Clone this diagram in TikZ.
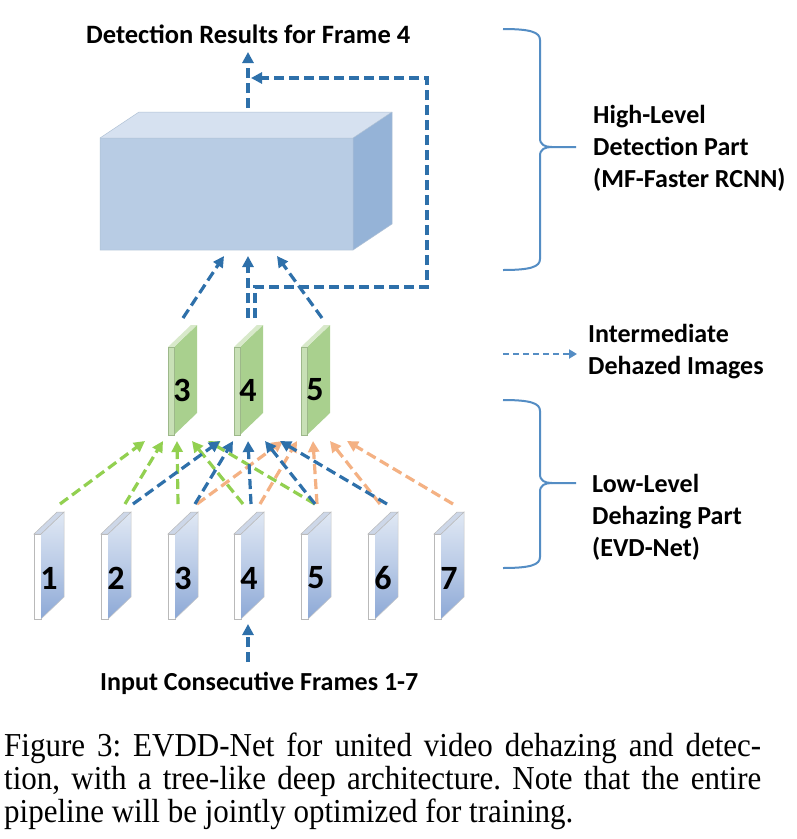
\documentclass[tikz,border=0pt]{standalone}
\usepackage{fontspec}
\setmainfont{Liberation Serif}
\newfontfamily\lblfont{Carlito}
\usetikzlibrary{arrows.meta,calc}
\definecolor{arrblue}{RGB}{46,112,170}
\definecolor{arrgreen}{RGB}{146,208,80}
\definecolor{arrorange}{RGB}{244,177,131}
\definecolor{bracecol}{RGB}{84,141,196}
\definecolor{boxfront}{RGB}{184,204,228}
\definecolor{boxtop}{RGB}{214,225,240}
\definecolor{boxside}{RGB}{149,179,215}
\definecolor{frtop}{RGB}{224,232,244}
\definecolor{frbot}{RGB}{140,168,214}
\definecolor{frlid}{RGB}{205,215,232}
\definecolor{grmain}{RGB}{169,208,142}
\definecolor{grstrip}{RGB}{200,224,182}
\definecolor{grlid}{RGB}{216,233,202}
\tikzset{
  flow/.style={line width=3.2pt, dash pattern=on 10pt off 5pt, -{Triangle[length=11pt,width=11pt]}},
  bflow/.style={flow, draw=arrblue},
  gflow/.style={flow, draw=arrgreen},
  oflow/.style={flow, draw=arrorange},
  bracestyle/.style={draw=bracecol, line width=2pt},
  lbl/.style={font=\lblfont\bfseries\fontsize{26}{32}\selectfont, inner sep=0pt, align=left},
  numlbl/.style={font=\lblfont\bfseries\fontsize{34}{36}\selectfont, inner sep=0pt},
  captext/.style={font=\fontsize{31}{33}\selectfont\frenchspacing, inner sep=0pt, anchor=base west},
  inframe/.pic={
    \fill[white] (0,0) rectangle (7,85);
    \draw[gray!55, line width=0.7pt] (0,0) rectangle (7,85);
    \shade[top color=frtop, bottom color=frbot, middle color=frtop!55!frbot] (7,0) -- (30,-22) -- (30,63) -- (7,85) -- cycle;
    \draw[gray!45, line width=0.5pt] (7,0) -- (30,-22) -- (30,63) -- (7,85);
    \fill[frlid] (0,0) -- (23,-22) -- (30,-22) -- (7,0) -- cycle;
    \draw[gray!55, line width=0.5pt] (0,0) -- (23,-22) -- (30,-22) -- (7,0) -- cycle;
    \node[numlbl] at (15,44) {#1};
    \coordinate (-t) at (0,-30);
  },
  midframe/.pic={
    \fill[grstrip] (0,0) rectangle (6,88);
    \fill[grmain] (6,0) -- (29,-22) -- (29,66) -- (6,88) -- cycle;
    \fill[grlid] (0,0) -- (23,-22) -- (29,-22) -- (6,0) -- cycle;
    \draw[grmain!70!gray, line width=0.4pt] (0,0) rectangle (6,88);
    \node[numlbl] at (14,43) {#1};
    \coordinate (-b) at (14,94);
    \coordinate (-t) at (15,-29);
  }
}
\begin{document}
\begin{tikzpicture}[x=1pt,y=-1pt]
\useasboundingbox (0,0) rectangle (797,839);
\fill[white] (0,0) rectangle (797,839);

% big detection box
\fill[boxtop] (100,138) -- (139,112) -- (392,112) -- (353,138) -- cycle;
\fill[boxside] (353,138) -- (392,112) -- (392,224) -- (353,250) -- cycle;
\fill[boxfront] (100,138) rectangle (353,250);
\draw[boxfront!85!gray, line width=0.5pt] (100,138) -- (139,112) -- (392,112) -- (392,224) -- (353,250) -- (100,250) -- cycle;
\draw[boxfront!85!gray, line width=0.5pt] (100,138) -- (353,138) -- (392,112) (353,138) -- (353,250);
\coordinate (boxtopc) at (248,108);
\coordinate (boxbot) at (248,256);

% title
\node[lbl, anchor=base west] (title) at (86,43) {\fontsize{26.5}{32}\selectfont Detection Results for Frame 4};
\coordinate (res) at (248,52);
\draw[bflow] (boxtopc) -- (res);

% intermediate dehazed images
\pic (m3) at (168,347) {midframe=3};
\pic (m4) at (234,347) {midframe=4};
\pic (m5) at (301,347) {midframe=5};

% input frames
\pic (f1) at (34,534) {inframe=1};
\pic (f2) at (101,534) {inframe=2};
\pic (f3) at (168,534) {inframe=3};
\pic (f4) at (234,534) {inframe=4};
\pic (f5) at (301,534) {inframe=5};
\pic (f6) at (368,534) {inframe=6};
\pic (f7) at (434,534) {inframe=7};

% mid -> box
\draw[bflow] (m3-t) -- ([xshift=-24pt]boxbot);
\draw[bflow] ([xshift=-1pt]m4-t) -- (boxbot);
\draw[bflow] ([xshift=6pt]m5-t) -- ([xshift=29pt]boxbot);

% feedback loop
\coordinate (fb) at (255,318);
\coordinate (fbR) at (427,287);
\coordinate (fbE) at (251,78);
\draw[bflow] (fb) |- (fbR) |- (fbE);

% green: frames 1-5 -> mid 3
\draw[gflow] ([xshift=26pt]f1-t) -- ([xshift=-37pt]m3-b);
\draw[gflow] ([xshift=24pt]f2-t) -- ([xshift=-19pt]m3-b);
\draw[gflow] ([xshift=10pt]f3-t) -- ([xshift=-5pt]m3-b);
\draw[gflow] ([xshift=9pt]f4-t) -- ([xshift=10pt]m3-b);
\draw[gflow] ([xshift=14pt]f5-t) -- ([xshift=26pt]m3-b);
% orange: frames 3-7 -> mid 5
\draw[oflow] ([xshift=29pt]f3-t) -- ([xshift=-32pt]m5-b);
\draw[oflow] ([xshift=26pt]f4-t) -- ([xshift=-18pt]m5-b);
\draw[oflow] ([xshift=16pt]f5-t) -- ([xshift=-2pt]m5-b);
\draw[oflow] ([xshift=12pt]f6-t) -- ([xshift=15pt]m5-b);
\draw[oflow] ([xshift=19pt]f7-t) -- ([xshift=32pt]m5-b);
% blue: frames 2-6 -> mid 4
\draw[bflow] ([xshift=32pt]f2-t) -- ([xshift=-28pt]m4-b);
\draw[bflow] ([xshift=27pt]f3-t) -- ([xshift=-15pt]m4-b);
\draw[bflow] ([xshift=17pt]f4-t) -- (m4-b);
\draw[bflow] ([xshift=14pt]f5-t) -- ([xshift=17pt]m4-b);
\draw[bflow] ([xshift=19pt]f6-t) -- ([xshift=32pt]m4-b);

% input arrow and label
\node[lbl, anchor=base west] (input) at (100,690) {Input Consecutive Frames 1-7};
\coordinate (inp) at (248,662);
\draw[bflow] (inp) -- (248,624);

% braces and legend
\draw[bracestyle] (503,29) .. controls (530,29) and (540,32) .. (540,40) -- (540,138) .. controls (540,145) and (545,147) .. (552,147) -- (576,147);
\draw[bracestyle] (503,270) .. controls (530,270) and (540,267) .. (540,259) -- (540,156) .. controls (540,149) and (545,147) .. (552,147);
\node[lbl, anchor=base west] (hl) at (593,187) {High-Level\\Detection Part\\(MF-Faster RCNN)};

\coordinate (lgs) at (503,354);
\coordinate (lge) at (577,354);
\draw[draw=bracecol, line width=2.5pt, dash pattern=on 6pt off 4pt, -{Triangle[length=8pt,width=9pt]}] (lgs) -- (lge);
\node[lbl, anchor=base west] (im) at (588,374) {Intermediate\\Dehazed Images};

\draw[bracestyle] (503,400) .. controls (530,400) and (540,403) .. (540,411) -- (540,474) .. controls (540,481) and (545,483) .. (552,483) -- (576,483);
\draw[bracestyle] (503,568) .. controls (530,568) and (540,565) .. (540,557) -- (540,492) .. controls (540,485) and (545,483) .. (552,483);
\node[lbl, anchor=base west] (ll) at (592,556) {Low-Level\\Dehazing Part\\(EVD-Net)};

% caption
\node[captext] (c1) at (4,756) {\scalebox{1}[1.08]{\makebox[757pt][s]{Figure 3: EVDD-Net for united video dehazing and detec-}}};
\node[captext] (c2) at (4,789) {\scalebox{1}[1.08]{\makebox[757pt][s]{tion, with a tree-like deep architecture. Note that the entire}}};
\node[captext] (c3) at (4,822) {\scalebox{1}[1.08]{pipeline will be jointly optimized for training.}};
\end{tikzpicture}
\end{document}
